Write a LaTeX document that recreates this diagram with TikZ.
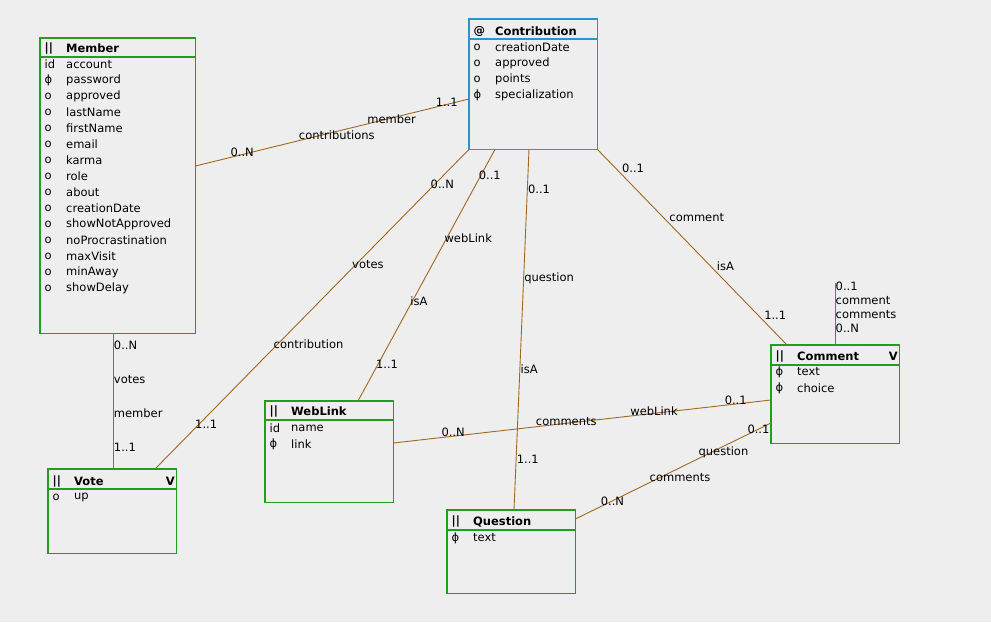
\documentclass[tikz,border=0pt]{standalone}
\usepackage{fontspec}
\setmainfont{DejaVu Sans}
\usetikzlibrary{calc}

\definecolor{boxgreen}{RGB}{30,160,30}
\definecolor{boxblue}{RGB}{40,150,200}
\definecolor{linkbrown}{RGB}{160,105,30}
\definecolor{canvas}{RGB}{238,238,238}
\newcommand\fieldfont{\fontsize{11.5}{14}\selectfont}

\begin{document}
\begin{tikzpicture}[x=1pt,y=-1pt,
    entity/.style={color=#1, anchor=north west, inner sep=0pt, minimum width=128pt},
    frame/.style={color=#1, line width=1.2pt},
    field/.style={anchor=west, inner sep=0pt, font=\fieldfont},
    title/.style={anchor=west, inner sep=0pt, font=\fieldfont\bfseries},
    link/.style={color=linkbrown, line width=0.9pt},
    role/.style={pos=#1, anchor=south west, inner sep=0.5pt, font=\fieldfont, text=black}]

    \path[use as bounding box, fill=canvas] (0,0) rectangle (991,622);

    % entities
    \node[entity=boxgreen, minimum width=155pt, minimum height=295pt] (member) at (40,38) {};
    \node[entity=boxblue, minimum height=130pt] (contribution) at (469,19) {};
    \node[entity=boxgreen, minimum height=84pt] (vote) at (48,469) {};
    \node[entity=boxgreen, minimum height=101pt] (weblink) at (265,401) {};
    \node[entity=boxgreen, minimum height=83pt] (question) at (447,510) {};
    \node[entity=boxgreen, minimum height=98pt] (comment) at (771,345) {};

    % frames and header lines
    \foreach \e/\c/\h in {member/boxgreen/57, contribution/boxblue/39, vote/boxgreen/489,
        weblink/boxgreen/420, question/boxgreen/530, comment/boxgreen/365} {
        \draw[frame=\c] (\e.north west) rectangle (\e.south east);
        \draw[frame=\c] (\e.west |- 0,\h) -- (\e.east |- 0,\h);
    }

    % titles
    \node[title] (member-k) at (44.5,48.5) {||};
    \node[title] (member-t) at (66,48.5) {Member};
    \node[title] (contribution-k) at (473.5,31) {@};
    \node[title] (contribution-t) at (495,31) {Contribution};
    \node[title] (vote-k) at (52.5,481) {||};
    \node[title] (vote-t) at (74,481) {Vote};
    \node[title, anchor=east] (vote-v) at (175,481) {V};
    \node[title] (weblink-k) at (269.5,411.5) {||};
    \node[title] (weblink-t) at (291,411.5) {WebLink};
    \node[title] (question-k) at (451.5,521.5) {||};
    \node[title] (question-t) at (473,521.5) {Question};
    \node[title] (comment-k) at (775.5,356) {||};
    \node[title] (comment-t) at (797,356) {Comment};
    \node[title, anchor=east] (comment-v) at (898,356) {V};

    % fields
    \foreach \k/\f [count=\i] in {id/account, ϕ/password, o/approved, o/lastName,
        o/firstName, o/email, o/karma, o/role, o/about, o/creationDate,
        o/showNotApproved, o/noProcrastination, o/maxVisit, o/minAway, o/showDelay} {
        \node[field] (member-k\i) at (44.5,48.5+16*\i) {\k};
        \node[field] (member-f\i) at (66,48.5+16*\i) {\f};
    }
    \foreach \k/\f [count=\i] in {o/creationDate, o/approved, o/points, ϕ/specialization} {
        \node[field] (contribution-k\i) at (473.5,31+16*\i) {\k};
        \node[field] (contribution-f\i) at (495,31+16*\i) {\f};
    }
    \node[field] (vote-k1) at (52.5,497) {o};
    \node[field] (vote-f1) at (74,497) {up};
    \node[field] (weblink-k1) at (269.5,428) {id};
    \node[field] (weblink-f1) at (291,428) {name};
    \node[field] (weblink-k2) at (269.5,444) {ϕ};
    \node[field] (weblink-f2) at (291,444) {link};
    \node[field] (question-k1) at (451.5,538) {ϕ};
    \node[field] (question-f1) at (473,538) {text};
    \node[field] (comment-k1) at (775.5,372) {ϕ};
    \node[field] (comment-f1) at (797,372) {text};
    \node[field] (comment-k2) at (775.5,388) {ϕ};
    \node[field] (comment-f2) at (797,388) {choice};

    % relations
    \draw[link] (member.east |- 0,166) -- (contribution.west |- 0,99)
        node[role=0.125] {0..N} node[role=0.375] {contributions}
        node[role=0.625] {member} node[role=0.875] {1..1};
    \draw[link] (member.south -| 113,0) -- (vote.north -| 113,0)
        node[role=0.125] {0..N} node[role=0.375] {votes}
        node[role=0.625] {member} node[role=0.875] {1..1};
    \draw[link] (contribution.south west) -- (vote.north -| 155,0)
        node[role=0.125] {0..N} node[role=0.375] {votes}
        node[role=0.625] {contribution} node[role=0.875] {1..1};
    \draw[link] (contribution.south -| 495,0) -- (weblink.north -| 358,0)
        node[role=0.125] {0..1} node[role=0.375] {webLink}
        node[role=0.625] {isA} node[role=0.875] {1..1};
    \draw[link] (contribution.south -| 529,0) -- (question.north -| 514,0)
        node[role=0.125] {0..1} node[role=0.375] {question}
        node[role=0.625] {isA} node[role=0.875] {1..1};
    \draw[link] (contribution.south east) -- (comment.north -| 787,0)
        node[role=0.125] {0..1} node[role=0.375] {comment}
        node[role=0.625] {isA} node[role=0.875] {1..1};
    \draw[link] (weblink.east |- 0,443) -- (comment.west |- 0,400)
        node[role=0.125] {0..N} node[role=0.375] {comments}
        node[role=0.625] {webLink} node[role=0.875] {0..1};
    \draw[link] (question.east |- 0,519) -- (comment.west |- 0,423)
        node[role=0.125] {0..N} node[role=0.375] {comments}
        node[role=0.625] {question} node[role=0.875] {0..1};

    % self relation on Comment
    \coordinate (looptop) at (835,283);
    \draw[link] (comment.north -| looptop) -- (looptop);
    \node[anchor=north west, align=left, inner sep=0.5pt, font=\fieldfont] (looplabel)
        at ($(looptop)+(0,-2)$) {0..1\\comment\\comments\\0..N};
\end{tikzpicture}
\end{document}
